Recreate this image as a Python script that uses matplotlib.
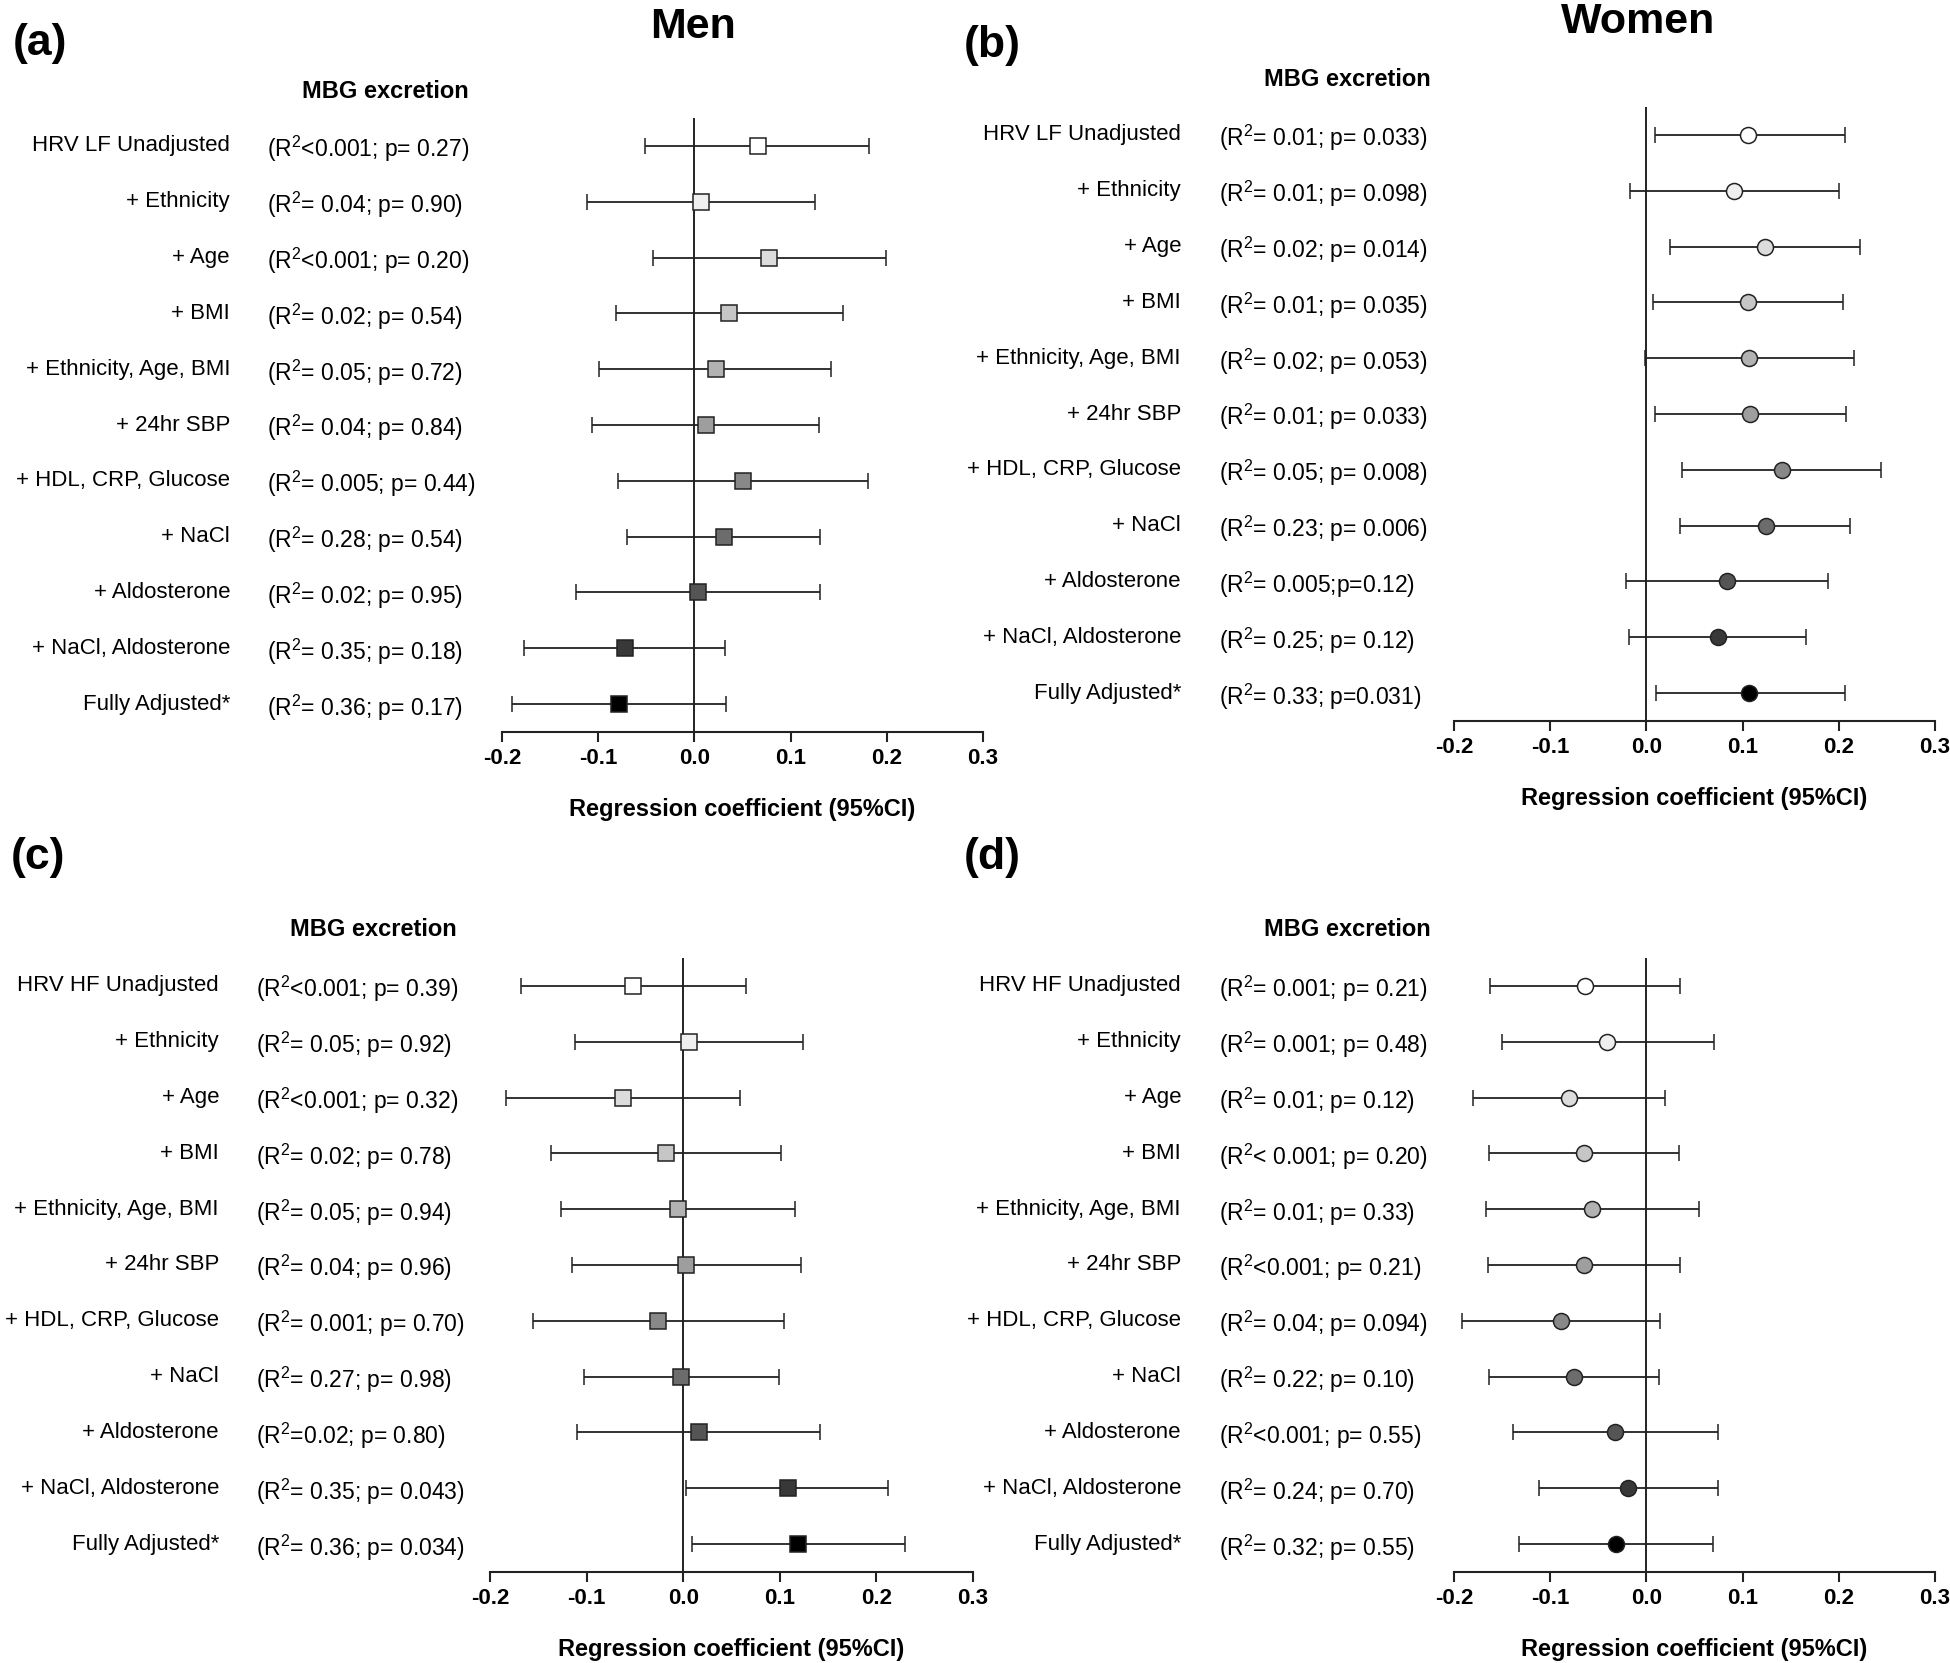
import matplotlib
matplotlib.use('Agg')
import matplotlib.pyplot as plt
import matplotlib.transforms as mtransforms
import numpy as np

plt.rcParams['font.family'] = ['Liberation Sans', 'DejaVu Sans']
plt.rcParams['mathtext.fontset'] = 'custom'
plt.rcParams['mathtext.rm'] = 'Liberation Sans'
plt.rcParams['mathtext.it'] = 'Liberation Sans'

# row labels
labels_lf = ['HRV LF Unadjusted', '+ Ethnicity', '+ Age', '+ BMI', '+ Ethnicity, Age, BMI',
             '+ 24hr SBP', '+ HDL, CRP, Glucose', '+ NaCl', '+ Aldosterone',
             '+ NaCl, Aldosterone', 'Fully Adjusted*']
labels_hf = ['HRV HF Unadjusted'] + labels_lf[1:]

# R2 / p text per panel
stats_a = ['(R$^2$<0.001; p= 0.27)', '(R$^2$= 0.04; p= 0.90)', '(R$^2$<0.001; p= 0.20)', '(R$^2$= 0.02; p= 0.54)',
           '(R$^2$= 0.05; p= 0.72)', '(R$^2$= 0.04; p= 0.84)', '(R$^2$= 0.005; p= 0.44)', '(R$^2$= 0.28; p= 0.54)',
           '(R$^2$= 0.02; p= 0.95)', '(R$^2$= 0.35; p= 0.18)', '(R$^2$= 0.36; p= 0.17)']
stats_b = ['(R$^2$= 0.01; p= 0.033)', '(R$^2$= 0.01; p= 0.098)', '(R$^2$= 0.02; p= 0.014)', '(R$^2$= 0.01; p= 0.035)',
           '(R$^2$= 0.02; p= 0.053)', '(R$^2$= 0.01; p= 0.033)', '(R$^2$= 0.05; p= 0.008)', '(R$^2$= 0.23; p= 0.006)',
           '(R$^2$= 0.005;p=0.12)', '(R$^2$= 0.25; p= 0.12)', '(R$^2$= 0.33; p=0.031)']
stats_c = ['(R$^2$<0.001; p= 0.39)', '(R$^2$= 0.05; p= 0.92)', '(R$^2$<0.001; p= 0.32)', '(R$^2$= 0.02; p= 0.78)',
           '(R$^2$= 0.05; p= 0.94)', '(R$^2$= 0.04; p= 0.96)', '(R$^2$= 0.001; p= 0.70)', '(R$^2$= 0.27; p= 0.98)',
           '(R$^2$=0.02; p= 0.80)', '(R$^2$= 0.35; p= 0.043)', '(R$^2$= 0.36; p= 0.034)']
stats_d = ['(R$^2$= 0.001; p= 0.21)', '(R$^2$= 0.001; p= 0.48)', '(R$^2$= 0.01; p= 0.12)', '(R$^2$< 0.001; p= 0.20)',
           '(R$^2$= 0.01; p= 0.33)', '(R$^2$<0.001; p= 0.21)', '(R$^2$= 0.04; p= 0.094)', '(R$^2$= 0.22; p= 0.10)',
           '(R$^2$<0.001; p= 0.55)', '(R$^2$= 0.24; p= 0.70)', '(R$^2$= 0.32; p= 0.55)']

# coefficients and 95% CI
coef_a = [0.066, 0.007, 0.078, 0.036, 0.022, 0.012, 0.051, 0.031, 0.004, -0.072, -0.078]
lo_a = [-0.051, -0.112, -0.043, -0.081, -0.099, -0.106, -0.079, -0.070, -0.123, -0.177, -0.190]
hi_a = [0.182, 0.125, 0.199, 0.154, 0.142, 0.130, 0.180, 0.131, 0.131, 0.032, 0.033]

coef_b = [0.106, 0.091, 0.123, 0.106, 0.107, 0.108, 0.141, 0.124, 0.084, 0.074, 0.107]
lo_b = [0.009, -0.017, 0.025, 0.007, -0.001, 0.009, 0.037, 0.035, -0.021, -0.018, 0.010]
hi_b = [0.206, 0.200, 0.222, 0.204, 0.216, 0.208, 0.244, 0.212, 0.189, 0.166, 0.206]

coef_c = [-0.052, 0.006, -0.062, -0.018, -0.005, 0.003, -0.026, -0.002, 0.016, 0.108, 0.119]
lo_c = [-0.168, -0.112, -0.183, -0.137, -0.126, -0.115, -0.156, -0.103, -0.110, 0.003, 0.009]
hi_c = [0.065, 0.124, 0.059, 0.101, 0.116, 0.122, 0.104, 0.099, 0.142, 0.212, 0.230]

coef_d = [-0.064, -0.041, -0.080, -0.065, -0.057, -0.065, -0.089, -0.075, -0.033, -0.019, -0.032]
lo_d = [-0.163, -0.150, -0.180, -0.164, -0.167, -0.165, -0.192, -0.164, -0.139, -0.112, -0.132]
hi_d = [0.035, 0.070, 0.019, 0.034, 0.055, 0.035, 0.014, 0.013, 0.074, 0.074, 0.069]

greys = ['#ffffff', '#efefef', '#dcdcdc', '#c6c6c6', '#b2b2b2', '#9e9e9e', '#888888',
         '#6c6c6c', '#555555', '#383838', '#000000']

W, H = 1950, 1663
fig = plt.figure(figsize=(W / 100, H / 100), dpi=100)


def fx(px):
    return px / W


def fy(py):
    return 1 - py / H


def panel(ax_px, data, labels, stats, marker, letter, letter_px, label_x, stats_x, mbg_px):
    left, right, top, bottom = ax_px
    ax = fig.add_axes([fx(left), fy(bottom), fx(right - left), (bottom - top) / H])
    coef, lo, hi = data
    n = len(coef)
    ypos = np.arange(n, 0, -1)
    for i in range(n):
        ax.errorbar(coef[i], ypos[i], xerr=[[coef[i] - lo[i]], [hi[i] - coef[i]]],
                    fmt=marker, color='#222222', ecolor='#222222', elinewidth=1.3,
                    capsize=6, capthick=1.3, markersize=11.5, markerfacecolor=greys[i],
                    markeredgecolor='#222222', markeredgewidth=1.1, zorder=3)
    ax.axvline(0, color='#222222', lw=1.4, zorder=1)
    ax.set_xlim(-0.2, 0.3)
    ax.set_ylim(0.5, n + 0.5)
    for s in ['top', 'right', 'left']:
        ax.spines[s].set_visible(False)
    ax.spines['bottom'].set_linewidth(1.5)
    ax.spines['bottom'].set_color('#222222')
    ax.set_yticks([])
    ax.set_xticks([-0.2, -0.1, 0.0, 0.1, 0.2, 0.3])
    ax.set_xticklabels(['-0.2', '-0.1', '0.0', '0.1', '0.2', '0.3'])
    ax.tick_params(axis='x', direction='out', length=7.5, width=1.5, color='#222222', pad=4,
                   labelsize=16)
    for t in ax.get_xticklabels():
        t.set_fontweight('bold')
    ax.set_xlabel('Regression coefficient (95%CI)', fontsize=17, fontweight='bold', labelpad=21)
    ax.patch.set_alpha(0)

    trans = mtransforms.blended_transform_factory(fig.transFigure, ax.transData)
    for i in range(n):
        ax.text(fx(label_x), ypos[i], labels[i], transform=trans, ha='right', va='center',
                fontsize=16, clip_on=False)
        ax.text(fx(stats_x), ypos[i] - 0.06, stats[i], transform=trans, ha='left', va='center',
                fontsize=16.5, clip_on=False)
    fig.text(fx(mbg_px[0]), fy(mbg_px[1]), 'MBG excretion', ha='center', va='center',
             fontsize=17, fontweight='bold')
    fig.text(fx(letter_px[0]), fy(letter_px[1]), letter, ha='left', va='center',
             fontsize=32, fontweight='bold')
    return ax


panel((502, 983, 118, 732), (coef_a, lo_a, hi_a), labels_lf, stats_a, 's', '(a)',
      (13, 44), 230, 267, (385, 91))
panel((1454, 1935, 107, 721), (coef_b, lo_b, hi_b), labels_lf, stats_b, 'o', '(b)',
      (964, 45), 1181, 1219, (1347, 80))
panel((490, 973, 958, 1572), (coef_c, lo_c, hi_c), labels_hf, stats_c, 's', '(c)',
      (11, 857), 219, 256, (373, 930))
panel((1454, 1935, 958, 1572), (coef_d, lo_d, hi_d), labels_hf, stats_d, 'o', '(d)',
      (964, 857), 1181, 1219, (1347, 930))

fig.text(fx(693), fy(27), 'Men', ha='center', va='center', fontsize=31, fontweight='bold')
fig.text(fx(1638), fy(22), 'Women', ha='center', va='center', fontsize=31, fontweight='bold')

fig.savefig('out.png', dpi=100, facecolor='white')
